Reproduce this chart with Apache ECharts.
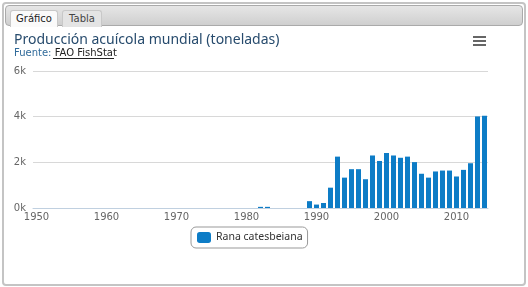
<!DOCTYPE html>
<html><head><meta charset="utf-8">
<script src="https://cdn.jsdelivr.net/npm/echarts@6/dist/echarts.min.js"></script>
<style>
html,body{margin:0;padding:0;width:528px;height:287px;overflow:hidden;background:#fff;font-family:"DejaVu Sans",sans-serif;}
#frame{position:absolute;left:2px;top:2px;width:520px;height:280px;border:2px solid #c4c4c4;border-radius:4px;background:#fff;}
#tabbar{position:absolute;left:1px;top:1px;width:516px;height:19px;border:1px solid #aaa;border-radius:4px;background:linear-gradient(#e6e6e6,#cfcfcf);}
.tab{position:absolute;top:4px;height:16px;font-size:10px;line-height:15px;color:#222;text-align:center;border:1px solid #c8c8c8;border-bottom:none;border-radius:3px 3px 0 0;}
#t1{left:4px;width:46px;background:#fafafa;}
#t2{left:56px;width:38px;background:#e4e4e4;color:#444;}
#chart{position:absolute;left:0;top:0;width:528px;height:287px;}
</style></head>
<body>
<div id="frame"><div id="tabbar"><div class="tab" id="t1">Gráfico</div><div class="tab" id="t2">Tabla</div></div></div>
<div id="chart"></div>
<script>
const years = [];
for (let y = 1950; y <= 2014; y++) years.push(String(y));
// 1950-1981 zero, 1982-1983 tiny, 1984-1988 zero, 1989-2014 values
const valuesEarly = [0,0,0,0,0,0,0,0,0,0, 0,0,0,0,0,0,0,0,0,0, 0,0,0,0,0,0,0,0,0,0, 0,0];
const values8288 = [50,50,0,0,0,0,0];
const values89on = [300,150,220,890,2250,1330,1700,1700,1260,2300,2060,2410,2300,2200,2250,2010,1500,1330,1600,1640,1640,1380,1670,1960,4010,4040];
const values = valuesEarly.concat(values8288, values89on);
const seriesName = 'Rana catesbeiana';
const titleText = 'Producción acuícola mundial (toneladas)';
const yTicks = [0, 2000, 4000, 6000];

const chart = echarts.init(document.getElementById('chart'), null, {renderer:'canvas'});
chart.setOption({
  backgroundColor: 'transparent',
  animation: false,
  title: {
    text: titleText,
    left: 9, top: 28,
    itemGap: 1.5,
    textStyle: {fontFamily:'Noto Sans', fontSize: 14, fontWeight: 'normal', color: '#274b6d'},
    subtext: '{a|Fuente: }{b|FAO FishStat}',
    subtextStyle: {rich: {
      a: {fontFamily:'DejaVu Sans', fontSize: 10, color: '#2f6a9a'},
      b: {fontFamily:'DejaVu Sans', fontSize: 10, color: '#222'}
    }}
  },
  graphic: [
    {type:'rect', shape:{x:473,y:36,width:13,height:2}, style:{fill:'#666'}},
    {type:'rect', shape:{x:473,y:40,width:13,height:2}, style:{fill:'#666'}},
    {type:'rect', shape:{x:473,y:44,width:13,height:2}, style:{fill:'#666'}},
    {type:'rect', shape:{x:53,y:58,width:61,height:1}, style:{fill:'#222'}}
  ],
  legend: {
    data: [seriesName],
    left: 191, top: 227,
    padding: [5, 5, 5, 6],
    borderColor: '#999', borderWidth: 1, borderRadius: 5,
    itemWidth: 14, itemHeight: 11,
    icon: 'roundRect',
    itemGap: 5,
    textStyle: {fontFamily:'Noto Sans', fontSize: 10.5, color: '#333'}
  },
  grid: {left: 33, right: 40, top: 71, bottom: 79, containLabel: false},
  xAxis: {
    type: 'category',
    data: years,
    boundaryGap: true,
    axisLine: {lineStyle: {color: '#C0D0E0'}},
    axisTick: {interval: 0, length: 5, lineStyle: {color: '#C0D0E0'}},
    axisLabel: {
      interval: (i, v) => Number(v) % 10 === 0,
      margin: 4,
      fontFamily: 'DejaVu Sans', fontSize: 10, color: '#666'
    }
  },
  yAxis: {
    type: 'value',
    min: yTicks[0], max: yTicks[yTicks.length - 1], interval: 2000,
    axisLine: {show: false}, axisTick: {show: false},
    splitLine: {lineStyle: {color: '#d8d8d8', width: 1}},
    axisLabel: {
      margin: 7,
      formatter: v => (v / 1000) + 'k',
      fontFamily: 'DejaVu Sans', fontSize: 10, color: '#666'
    }
  },
  series: [{
    name: seriesName,
    type: 'bar',
    data: values,
    barCategoryGap: '28%',
    itemStyle: {color: '#0d7cc6'}
  }]
});
</script>
</body></html>
